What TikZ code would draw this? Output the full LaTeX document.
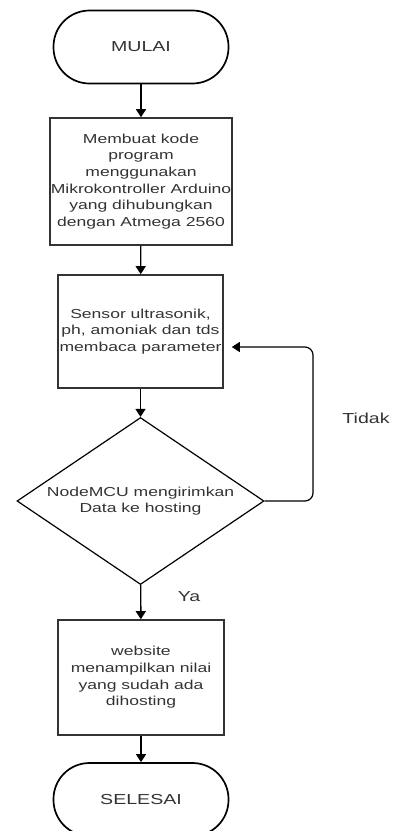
\documentclass[tikz,border=0pt]{standalone}
\usepackage{fontspec}
\setmainfont{Liberation Sans}
\newfontfamily\flowfont[FakeStretch=1.35]{Liberation Sans}
\usetikzlibrary{positioning,arrows.meta,shapes.geometric}
\definecolor{textGray}{HTML}{333333}
\definecolor{lineGray}{HTML}{333333}

\begin{document}
\begin{tikzpicture}[
    x=1pt, y=-1pt,
    terminal/.style={draw=black, line width=1.7pt, rounded corners=36pt, minimum width=175pt, minimum height=73pt, inner sep=0pt, text=textGray, font=\flowfont\fontsize{14.5}{17}\selectfont},
    process/.style={draw=lineGray, line width=1.6pt, minimum width=#1, inner sep=0pt, align=center, text=textGray, font=\flowfont\fontsize{13}{16.6}\selectfont},
    decision/.style={draw=black, line width=1.2pt, diamond, aspect=1.48, minimum width=247pt, minimum height=167pt, inner sep=0pt, align=center, text=textGray, font=\flowfont\fontsize{13}{16.6}\selectfont},
    arrow/.style={-{Triangle[length=8pt, width=10pt]}, line width=1.4pt},
    flowlabel/.style={text=textGray, font=\flowfont\fontsize{14.5}{17}\selectfont}
  ]
  \useasboundingbox (0,0) rectangle (393,831);

  \node[terminal] (mulai) at (141,47) {MULAI};
  \node[process=182pt, minimum height=127pt] (kode) at (141,181.5)
    {\raisebox{-3pt}{\parbox{182pt}{\centering Membuat kode\\ program\\ menggunakan\\ Mikrokontroller Arduino\\ yang dihubungkan\\ dengan Atmega 2560}}};
  \node[process=165pt, minimum height=113pt] (sensor) at (140.5,331.5)
    {\parbox{165pt}{\centering Sensor ultrasonik,\\ ph, amoniak dan tds\\ membaca parameter}};
  \node[decision] (kirim) at (140.5,501) {NodeMCU mengirimkan\\ Data ke hosting};
  \node[process=166pt, minimum height=115pt] (web) at (141,677.5)
    {\parbox{166pt}{\centering website\\ menampilkan nilai\\ yang sudah ada\\ dihosting}};
  \node[terminal] (selesai) at (141,799.5) {SELESAI};

  \coordinate (balik) at (313,347);
  \node[flowlabel] (tidak) at (366,418) {Tidak};
  \node[flowlabel] (ya) at (189,597) {Ya};

  \draw[arrow] (mulai) -- (kode);
  \draw[arrow] (kode) -- (sensor);
  \draw[arrow] (sensor) -- (kirim);
  \draw[arrow] (kirim) -- (web);
  \draw[arrow] (web) -- (selesai);
  \draw[arrow, line width=1.2pt, rounded corners=8pt, shorten >=8pt] (kirim.east) -| (balik) -- (balik -| sensor.east);
\end{tikzpicture}
\end{document}
